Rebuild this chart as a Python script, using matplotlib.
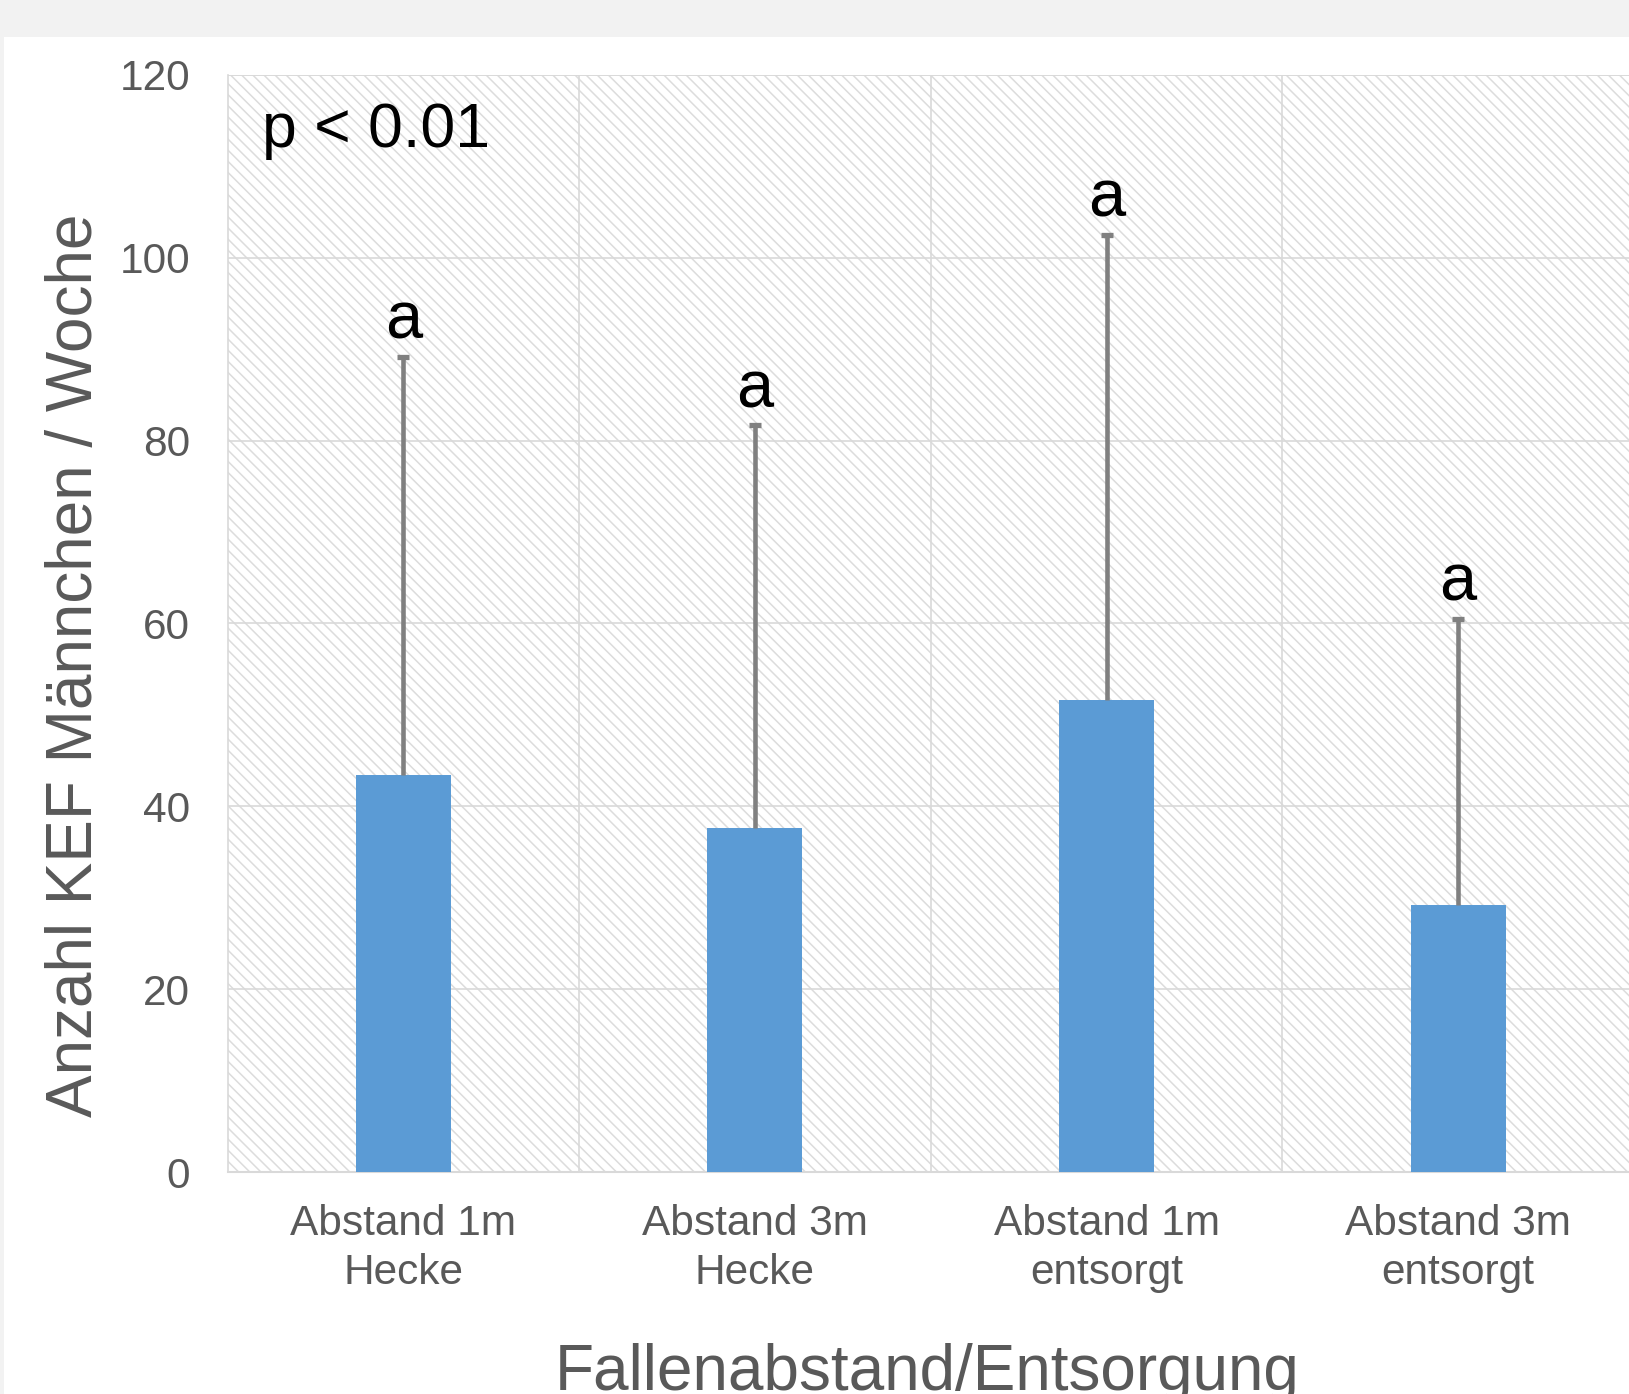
import matplotlib.pyplot as plt
from matplotlib.patches import Rectangle

plt.rcParams['font.family'] = ['Liberation Sans', 'DejaVu Sans']
plt.rcParams['hatch.linewidth'] = 1.1

# Mittelwerte und Standardabweichung (nur nach oben)
categories = ["Abstand 1m\nHecke", "Abstand 3m\nHecke",
              "Abstand 1m\nentsorgt", "Abstand 3m\nentsorgt"]
means = [43.4, 37.6, 51.6, 29.2]
errors = [45.8, 44.1, 50.9, 31.3]
letters = ["a", "a", "a", "a"]

W, H = 1629, 1394
fig = plt.figure(figsize=(W / 100, H / 100), dpi=100)
fig.patch.set_facecolor("white")

# grauer Rand oben und links
fig.add_artist(Rectangle((0, 1 - 37 / H), 1, 37 / H, transform=fig.transFigure,
                         facecolor="#f2f2f2", edgecolor="none", zorder=0))
fig.add_artist(Rectangle((0, 0), 4 / W, 1, transform=fig.transFigure,
                         facecolor="#f2f2f2", edgecolor="none", zorder=0))

left, right, bottom, top = 227.5, 1634, 1172, 75
ax = fig.add_axes([left / W, 1 - bottom / H, (right - left) / W, (bottom - top) / H])

# schraffierter Hintergrund der Zeichenfläche
ax.patch.set_facecolor("white")
ax.add_patch(Rectangle((0, 0), 1, 1, transform=ax.transAxes, facecolor="white",
                       edgecolor="#dcdcdc", linewidth=0, hatch="\\\\\\", zorder=0))

x = list(range(len(categories)))
ax.bar(x, means, width=0.27, color="#5b9bd5", zorder=3)
_, caps, _ = ax.errorbar(x, means, yerr=[[0] * len(errors), errors], fmt="none",
                         ecolor="#808080", elinewidth=3.3, capsize=4.3,
                         capthick=3.8, zorder=4)
caps[0].set_visible(False)  # keine Kappe am Balkenende

for xi, m, e, lab in zip(x, means, errors, letters):
    ax.annotate(lab, (xi, m + e), xytext=(0, 13), textcoords="offset points",
                ha="center", va="baseline", fontsize=48, color="black", zorder=5)

ax.set_xlim(-0.5, 3.5)
ax.set_ylim(0, 120)
ax.set_yticks(range(0, 121, 20))
ax.set_xticks(x)
ax.set_xticklabels(categories, linespacing=1.3)
ax.set_xticks([0.5, 1.5, 2.5], minor=True)

ax.grid(axis="y", which="major", color="#d9d9d9", linewidth=1.2, zorder=1)
ax.grid(axis="x", which="minor", color="#d9d9d9", linewidth=1.2, zorder=1)
ax.tick_params(axis="both", which="both", length=0, colors="#595959", labelsize=30.5)
ax.tick_params(axis="y", pad=27)
ax.tick_params(axis="x", pad=23)
ax.set_axisbelow(True)

for side in ["top", "right"]:
    ax.spines[side].set_visible(False)
ax.spines["left"].set_color("#d9d9d9")
ax.spines["left"].set_linewidth(1.2)
ax.spines["bottom"].set_color("#d9d9d9")
ax.spines["bottom"].set_linewidth(1.5)
ax.plot([-0.5, 3.5], [120, 120], color="#d9d9d9", linewidth=1.2, zorder=1)

ax.set_ylabel("Anzahl KEF Männchen / Woche", fontsize=46, color="#595959")
ax.yaxis.set_label_coords(-0.087, 0.462)

fig.text(927 / W, 4 / H, "Fallenabstand/Entsorgung", ha="center", va="baseline",
         fontsize=46, color="#595959")

ax.text(34.5 / (right - left), 1 - (147 - top) / (bottom - top), "p < 0.01",
        transform=ax.transAxes, ha="left", va="baseline", fontsize=45, color="black",
        zorder=5)

fig.savefig("out.png", dpi=100, facecolor=fig.get_facecolor())
